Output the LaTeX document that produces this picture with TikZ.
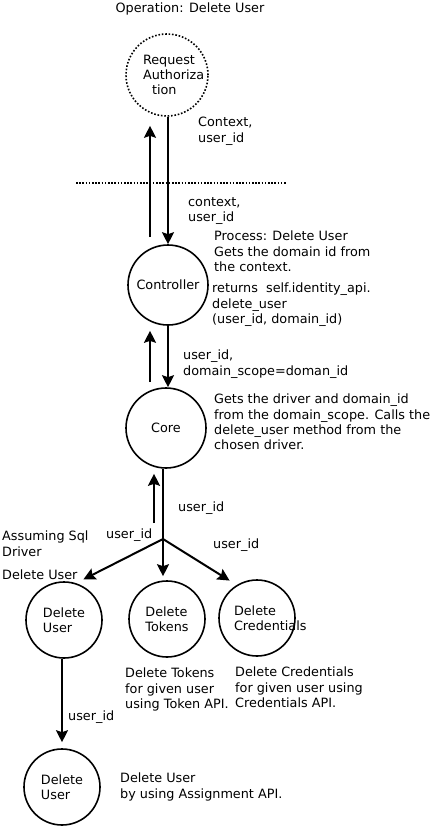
\documentclass[tikz,border=0pt]{standalone}
\usepackage{fontspec}
\setmainfont{DejaVu Sans}
\usetikzlibrary{arrows.meta}

\begin{document}
\begin{tikzpicture}[
    x=1pt, y=-1pt,
    every node/.style={font=\fontsize{12.8}{15.3}\selectfont},
    proc/.style={
        circle,
        draw,
        line width=1.6pt,
        inner sep=0pt,
        align=left,
        minimum size=76pt
    },
    note/.style={
        anchor=north west,
        inner sep=0pt,
        align=left
    },
    arrow/.style={-{Stealth[length=12pt, width=12pt, inset=2pt]}, line width=2pt}
]

\useasboundingbox (0,0) rectangle (430,827);

\node (title) at (190,9) {Operation: Delete User};

% processes
\node[proc, dash pattern=on 1.6pt off 1.8pt, minimum size=82pt, text width=48pt] (auth) at (167,75) {
    Request\\Authoriza\\\hspace*{9pt}tion
};
\node[proc, minimum size=80pt] (ctrl) at (168,285) {Controller};
\node[proc, minimum size=80pt] (core) at (166,428) {Core};
\node[proc] (du) at (64,620) {Delete\\User};
\node[proc] (dt) at (167,619) {Delete\\Tokens};
\node[proc, text width=46pt] (dc) at (257,618) {Delete\\Credentials};
\node[proc] (du2) at (62,787) {Delete\\User};

% boundary
\draw[line width=1.8pt, dash pattern=on 1.6pt off 1.6pt] (76,183) -- (287,183);

% notes
\node[note] (ctxlbl) at (198,117) {Context,\\user\_id};
\node[note] (ctxlbl2) at (188,197) {context,\\user\_id};
\node[note] (proclbl) at (214,231) {
    Process: Delete User\\
    Gets the domain id from\\
    the context.
};
\node[note] (retlbl) at (212,283) {
    returns~~self.identity\_api.\\
    delete\_user\\
    (user\_id, domain\_id)
};
\node[note] (scopelbl) at (183,350) {user\_id,\\domain\_scope=doman\_id};
\node[note] (corelbl) at (214,394) {
    Gets the driver and domain\_id\\
    from the domain\_scope. Calls the\\
    delete\_user method from the\\
    chosen driver.
};
\node[note] (idlbl) at (178,502) {user\_id};
\node[note] (backlbl) at (106,529) {user\_id};
\node[note] (credidlbl) at (213,539) {user\_id};
\node[note] (sqllbl) at (2,531) {Assuming Sql\\Driver};
\node[note] (dulbl) at (2,570) {Delete User};
\node[note] (dtlbl) at (125,668) {
    Delete Tokens\\
    for given user\\
    using Token API.
};
\node[note] (dclbl) at (235,667) {
    Delete Credentials\\
    for given user using\\
    Credentials API.
};
\node[note] (du2idlbl) at (68,711) {user\_id};
\node[note] (du2lbl) at (120,773) {
    Delete User\\
    by using Assignment API.
};

\coordinate (split) at (163,539);
\coordinate (back) at (154,523);

% connectors
\draw[arrow] ([xshift=-18pt, yshift=7pt]ctrl.north) -- ([xshift=-17pt, yshift=-9pt]auth.south);
\draw[arrow] (auth.south -| ctrl.north) -- (ctrl.north);
\draw[arrow] ([xshift=-16pt, yshift=5pt]core.north) -- ([xshift=-18pt, yshift=-5pt]ctrl.south);
\draw[arrow] (ctrl.south) -- (ctrl.south |- core.north);
\draw[arrow] (back) -- ([xshift=-12pt, yshift=-5pt]core.south);
\draw[line width=2pt] (core.south -| split) -- (split);
\draw[arrow] (split) -- ([yshift=7pt]du.60);
\draw[arrow] (split) -- ([xshift=-4pt, yshift=4pt]dt.north);
\draw[arrow] (split) -- ([yshift=10pt]dc.135);
\draw[arrow] (du2.north |- du.south) -- ([yshift=6pt]du2.north);

\end{tikzpicture}
\end{document}
